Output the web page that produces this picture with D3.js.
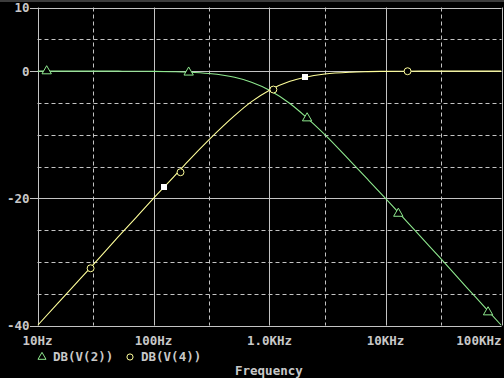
<!DOCTYPE html>
<html>
<head>
<meta charset="utf-8">
<script src="https://cdn.jsdelivr.net/npm/d3@7"></script>
<style>
    html, body { margin: 0; padding: 0; background: #000; }
    svg { display: block; }
    text { font-family: "DejaVu Sans Mono", monospace; font-weight: bold; font-size: 12.5px; fill: #c8c8c8; }
</style>
</head>
<body>
<div id="view"></div>
<script>
// frequency sweep (Hz) and the two traces in dB
const freqs = [10, 15, 20, 30, 50, 70, 100, 150, 200, 300, 400, 500, 700, 1000,
    1500, 2000, 3000, 5000, 7000, 10000, 15000, 20000, 30000, 50000, 70000, 100000];
const dbV2 = [0, 0, 0, 0, -0.01, -0.02, -0.04, -0.1, -0.17, -0.37, -0.64, -0.97, -1.74, -3.0,
    -5.1, -7.0, -10.0, -14.2, -17.0, -20.0, -23.5, -26.0, -29.5, -34.0, -36.9, -40.0];
const dbV4 = [-40.0, -36.5, -34.0, -30.5, -26.0, -23.1, -20.0, -16.6, -14.1, -10.8, -8.6, -7.0, -4.8, -3.0,
    -1.6, -1.0, -0.46, -0.17, -0.09, -0.04, -0.02, -0.01, 0, 0, 0, 0];

// trace symbols and the two cursor squares
const v2MarkFreq = [12, 201, 2110, 12900, 76600];
const v2MarkDb = [0, -0.2, -7.4, -22.4, -37.9];
const v4MarkFreq = [28.7, 171, 1080, 15500];
const v4MarkDb = [-31.0, -15.9, -2.9, -0.02];
const cursorFreq = [124, 2014];
const cursorDb = [-18.3, -1.0];

// axes
const xMajor = [10, 100, 1000, 10000, 100000];
const xMajorLabels = ['10Hz', '100Hz', '1.0KHz', '10KHz', '100KHz'];
const xMinor = [30, 300, 3000, 30000];
const yMajor = [10, 0, -20, -40];
const yMajorLabels = ['10', '0', '-20', '-40'];
const yMinor = [5, -5, -10, -15, -25, -30, -35];

const traces = [
    {name: 'DB(V(2))', values: dbV2, color: '#8ee88e', markF: v2MarkFreq, markD: v2MarkDb, sym: d3.symbolTriangle},
    {name: 'DB(V(4))', values: dbV4, color: '#ffff9a', markF: v4MarkFreq, markD: v4MarkDb, sym: d3.symbolCircle}
];

const W = 504, H = 378;
const svg = d3.select('#view').append('svg')
    .attr('width', W)
    .attr('height', H);

svg.append('rect').attr('width', W).attr('height', H).attr('fill', '#000');
svg.append('rect').attr('width', W).attr('height', 2).attr('fill', '#3c3c3c');

const x = d3.scaleLog().domain([10, 100000]).range([37.5, 501.5]);
const y = d3.scaleLinear().domain([-40, 10]).range([325.5, 7.5]);
const grid = '#c4c4c4';

// minor dashed grid
svg.append('g').selectAll('line').data(xMinor).join('line')
    .attr('x1', d => Math.round(x(d)) + 0.5).attr('x2', d => Math.round(x(d)) + 0.5)
    .attr('y1', y(10)).attr('y2', y(-40))
    .attr('stroke', grid).attr('stroke-dasharray', '4,3');
svg.append('g').selectAll('line').data(yMinor).join('line')
    .attr('x1', x(10)).attr('x2', x(100000))
    .attr('y1', d => Math.round(y(d)) + 0.5).attr('y2', d => Math.round(y(d)) + 0.5)
    .attr('stroke', grid).attr('stroke-dasharray', '4,3');

// major solid grid
svg.append('g').selectAll('line').data(xMajor).join('line')
    .attr('x1', d => Math.round(x(d)) + 0.5).attr('x2', d => Math.round(x(d)) + 0.5)
    .attr('y1', y(10)).attr('y2', y(-40))
    .attr('stroke', grid);
svg.append('g').selectAll('line').data(yMajor).join('line')
    .attr('x1', 30).attr('x2', x(100000))
    .attr('y1', d => Math.round(y(d)) + 0.5).attr('y2', d => Math.round(y(d)) + 0.5)
    .attr('stroke', grid);

// y labels
svg.append('g').selectAll('text').data(yMajor).join('text')
    .attr('x', 29.5)
    .attr('y', d => y(d) + 4.5)
    .attr('text-anchor', 'end')
    .text((d, i) => yMajorLabels[i]);

// x labels (last one is pushed left to stay inside the window)
svg.append('g').selectAll('text').data(xMajor).join('text')
    .attr('x', d => x(d))
    .attr('y', 345)
    .attr('text-anchor', (d, i) => i == xMajor.length - 1 ? 'end' : 'middle')
    .text((d, i) => xMajorLabels[i]);

// traces
svg.append('clipPath').attr('id', 'plot')
    .append('rect').attr('x', x(10)).attr('y', y(10))
    .attr('width', x(100000) - x(10)).attr('height', y(-40) - y(10));

const line = d3.line()
    .x(d => x(d[0]))
    .y(d => y(d[1]))
    .curve(d3.curveMonotoneX);

const plot = svg.append('g').attr('clip-path', 'url(#plot)');
traces.forEach(t => {
    plot.append('path')
        .datum(freqs.map((f, i) => [f, t.values[i]]))
        .attr('fill', 'none')
        .attr('stroke', t.color)
        .attr('stroke-width', 1.1)
        .attr('d', line);
});

const sym = d3.symbol();
traces.forEach(t => {
    plot.append('g').selectAll('path').data(t.markF).join('path')
        .attr('transform', (d, i) => `translate(${x(d)},${y(t.markD[i])})`)
        .attr('d', sym.type(t.sym).size(t.sym == d3.symbolCircle ? 38 : 38)())
        .attr('fill', '#000')
        .attr('stroke', t.color)
        .attr('stroke-width', 1);
});

svg.append('g').selectAll('rect').data(cursorFreq).join('rect')
    .attr('x', d => Math.round(x(d)) - 3)
    .attr('y', (d, i) => Math.round(y(cursorDb[i])) - 3)
    .attr('width', 6).attr('height', 6)
    .attr('fill', '#fff');

// legend
const legend = svg.append('g');
const legendX = [42, 130];
traces.forEach((t, i) => {
    legend.append('path')
        .attr('transform', `translate(${legendX[i]},357)`)
        .attr('d', sym.type(t.sym).size(t.sym == d3.symbolCircle ? 30 : 28)())
        .attr('fill', 'none')
        .attr('stroke', t.color);
    legend.append('text')
        .attr('x', legendX[i] + 11)
        .attr('y', 361)
        .text(t.name);
});

svg.append('text')
    .attr('x', 235)
    .attr('y', 374.5)
    .text('Frequency');
</script>
</body>
</html>
